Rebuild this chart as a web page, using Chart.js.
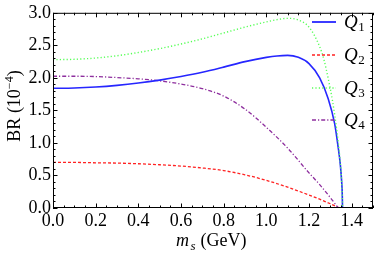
<!DOCTYPE html>
<html>
<head>
<meta charset="utf-8">
<script src="https://cdn.jsdelivr.net/npm/chart.js@4/dist/chart.umd.min.js"></script>
<style>
html,body{margin:0;padding:0;background:#fff;}
#wrap{width:374px;height:255px;position:relative;}
</style>
</head>
<body>
<div id="wrap"><canvas id="c" width="374" height="255"></canvas></div>
<script>
// ---- data ----
const seriesNames = ["Q1", "Q2", "Q3", "Q4"];
const msQ1 = [0, 0.1, 0.2, 0.3, 0.4, 0.5, 0.6, 0.7, 0.8, 0.9, 1.0, 1.05, 1.1, 1.15, 1.2, 1.25, 1.29, 1.32, 1.336, 1.347, 1.353, 1.356, 1.357];
const brQ1 = [1.84, 1.845, 1.86, 1.885, 1.92, 1.965, 2.02, 2.085, 2.165, 2.25, 2.315, 2.337, 2.345, 2.315, 2.22, 2.0, 1.68, 1.30, 0.95, 0.66, 0.41, 0.2, 0];
const msQ2 = [0, 0.1, 0.2, 0.3, 0.4, 0.5, 0.6, 0.7, 0.8, 0.9, 1.0, 1.1, 1.2, 1.25, 1.3, 1.343];
const brQ2 = [0.70, 0.70, 0.695, 0.69, 0.68, 0.665, 0.645, 0.615, 0.575, 0.51, 0.425, 0.32, 0.2, 0.135, 0.065, 0];
const msQ3 = [0, 0.1, 0.2, 0.3, 0.4, 0.5, 0.6, 0.7, 0.8, 0.9, 1.0, 1.05, 1.1, 1.15, 1.2, 1.25, 1.27, 1.29, 1.31, 1.33, 1.345, 1.353, 1.358];
const brQ3 = [2.28, 2.285, 2.305, 2.34, 2.39, 2.45, 2.52, 2.60, 2.69, 2.78, 2.86, 2.895, 2.915, 2.89, 2.78, 2.48, 2.28, 1.99, 1.65, 1.20, 0.75, 0.4, 0];
const msQ4 = [0, 0.1, 0.2, 0.3, 0.4, 0.5, 0.6, 0.7, 0.8, 0.9, 1.0, 1.1, 1.2, 1.25, 1.3, 1.337];
const brQ4 = [2.025, 2.025, 2.02, 2.005, 1.985, 1.955, 1.905, 1.835, 1.72, 1.52, 1.24, 0.92, 0.54, 0.36, 0.16, 0];
const xTicks = [0, 0.2, 0.4, 0.6, 0.8, 1.0, 1.2, 1.4];
const yTicks = [0, 0.5, 1.0, 1.5, 2.0, 2.5, 3.0];
const xRange = [0, 1.5];
const yRange = [0, 3.0];

const pts = (xs, ys) => xs.map((x, i) => ({x: x, y: ys[i]}));
const SERIF = "'Liberation Serif','Times New Roman',serif";

const styles = [
  {color: '#2626ff', width: 1.6, dash: []},
  {color: '#ff2222', width: 1.3, dash: [3, 2]},
  {color: '#55ff55', width: 1.4, dash: [1.2, 2.2]},
  {color: '#8e2f9e', width: 1.3, dash: [4, 2, 1.2, 2]}
];
const xsAll = [msQ1, msQ2, msQ3, msQ4];
const ysAll = [brQ1, brQ2, brQ3, brQ4];

const datasets = seriesNames.map((n, i) => ({
  label: n,
  data: pts(xsAll[i], ysAll[i]),
  borderColor: styles[i].color,
  borderWidth: styles[i].width,
  borderDash: styles[i].dash,
  pointRadius: 0,
  fill: false,
  cubicInterpolationMode: 'monotone',
  order: [2, 4, 1, 3][i]
}));

const framePlugin = {
  id: 'frame',
  afterDatasetsDraw(chart) {
    const ctx = chart.ctx;
    const a = chart.chartArea;
    const xs = chart.scales.x, ys = chart.scales.y;
    ctx.save();
    ctx.strokeStyle = '#000';
    ctx.lineWidth = 1;
    ctx.setLineDash([]);
    ctx.strokeRect(a.left + 0.5, a.top + 0.5, a.right - a.left - 1, a.bottom - a.top - 1);
    ctx.beginPath();
    for (let k = 0; k <= 30; k++) {
      const v = k * 0.05;
      if (v > xRange[1] + 1e-9) break;
      const px = Math.round(xs.getPixelForValue(v)) + 0.5;
      const len = (k % 4 === 0) ? 4.5 : 2.5;
      ctx.moveTo(px, a.bottom); ctx.lineTo(px, a.bottom - len);
      ctx.moveTo(px, a.top); ctx.lineTo(px, a.top + len);
    }
    for (let k = 0; k <= 30; k++) {
      const v = k * 0.1;
      const py = Math.round(ys.getPixelForValue(v)) + 0.5;
      const len = (k % 5 === 0) ? 4.5 : 2.5;
      ctx.moveTo(a.left, py); ctx.lineTo(a.left + len, py);
      ctx.moveTo(a.right, py); ctx.lineTo(a.right - len, py);
    }
    ctx.stroke();

    // legend
    const legY = [22, 55, 88, 120];
    for (let i = 0; i < 4; i++) {
      const s = styles[i];
      ctx.beginPath();
      ctx.strokeStyle = s.color;
      ctx.lineWidth = s.width + 0.2;
      ctx.setLineDash(s.dash);
      ctx.moveTo(312, legY[i]);
      ctx.lineTo(336, legY[i]);
      ctx.stroke();
      ctx.setLineDash([]);
      ctx.fillStyle = '#000';
      ctx.textBaseline = 'alphabetic';
      ctx.textAlign = 'left';
      ctx.font = 'italic 19px ' + SERIF;
      ctx.fillText('Q', 344, legY[i] + 6);
      const w = ctx.measureText('Q').width;
      ctx.font = '13px ' + SERIF;
      ctx.fillText(seriesNames[i].slice(1), 344 + w + 0.5, legY[i] + 9);
    }

    // x axis title: m_s (GeV)
    ctx.fillStyle = '#000';
    ctx.textBaseline = 'alphabetic';
    ctx.textAlign = 'left';
    let x0 = 176, by = 246;
    ctx.font = 'italic 18px ' + SERIF;
    ctx.fillText('m', x0, by);
    x0 += ctx.measureText('m').width + 1.5;
    ctx.font = 'italic 13px ' + SERIF;
    ctx.fillText('s', x0, by + 4);
    x0 += ctx.measureText('s').width + 5;
    ctx.font = '18px ' + SERIF;
    ctx.fillText('(GeV)', x0, by);

    // y axis title: BR (10^-4)
    ctx.translate(20, 106);
    ctx.rotate(-Math.PI / 2);
    ctx.textAlign = 'left';
    const t1 = 'BR (10', t2 = '\u22124', t3 = ')';
    ctx.font = '18px ' + SERIF;
    const w1 = ctx.measureText(t1).width;
    ctx.font = '12px ' + SERIF;
    const w2 = ctx.measureText(t2).width;
    ctx.font = '18px ' + SERIF;
    const w3 = ctx.measureText(t3).width;
    let sx = -(w1 + w2 + w3) / 2;
    ctx.fillText(t1, sx, 0);
    ctx.font = '12px ' + SERIF;
    ctx.fillText(t2, sx + w1, -7);
    ctx.font = '18px ' + SERIF;
    ctx.fillText(t3, sx + w1 + w2, 0);
    ctx.restore();
  }
};

new Chart(document.getElementById('c'), {
  type: 'line',
  data: {datasets: datasets},
  options: {
    responsive: false,
    animation: false,
    devicePixelRatio: 1,
    layout: {padding: {top: 10, right: 1, left: 0, bottom: 0}},
    plugins: {legend: {display: false}, tooltip: {enabled: false}},
    scales: {
      x: {
        type: 'linear',
        min: xRange[0], max: xRange[1],
        grid: {display: false, drawTicks: false},
        border: {display: false},
        afterBuildTicks: (s) => { s.ticks = xTicks.map(v => ({value: v})); },
        afterFit: (s) => { s.height = 47; },
        ticks: {
          autoSkip: false, maxRotation: 0, padding: 2,
          color: '#000',
          font: {family: SERIF, size: 18},
          callback: (v) => Number(v).toFixed(1)
        }
      },
      y: {
        type: 'linear',
        min: yRange[0], max: yRange[1],
        grid: {display: false, drawTicks: false},
        border: {display: false},
        afterBuildTicks: (s) => { s.ticks = yTicks.map(v => ({value: v})); },
        afterFit: (s) => { s.width = 53; },
        ticks: {
          autoSkip: false, padding: 2,
          color: '#000',
          font: {family: SERIF, size: 18},
          callback: (v) => Number(v).toFixed(1)
        }
      }
    }
  },
  plugins: [framePlugin]
});
</script>
</body>
</html>
